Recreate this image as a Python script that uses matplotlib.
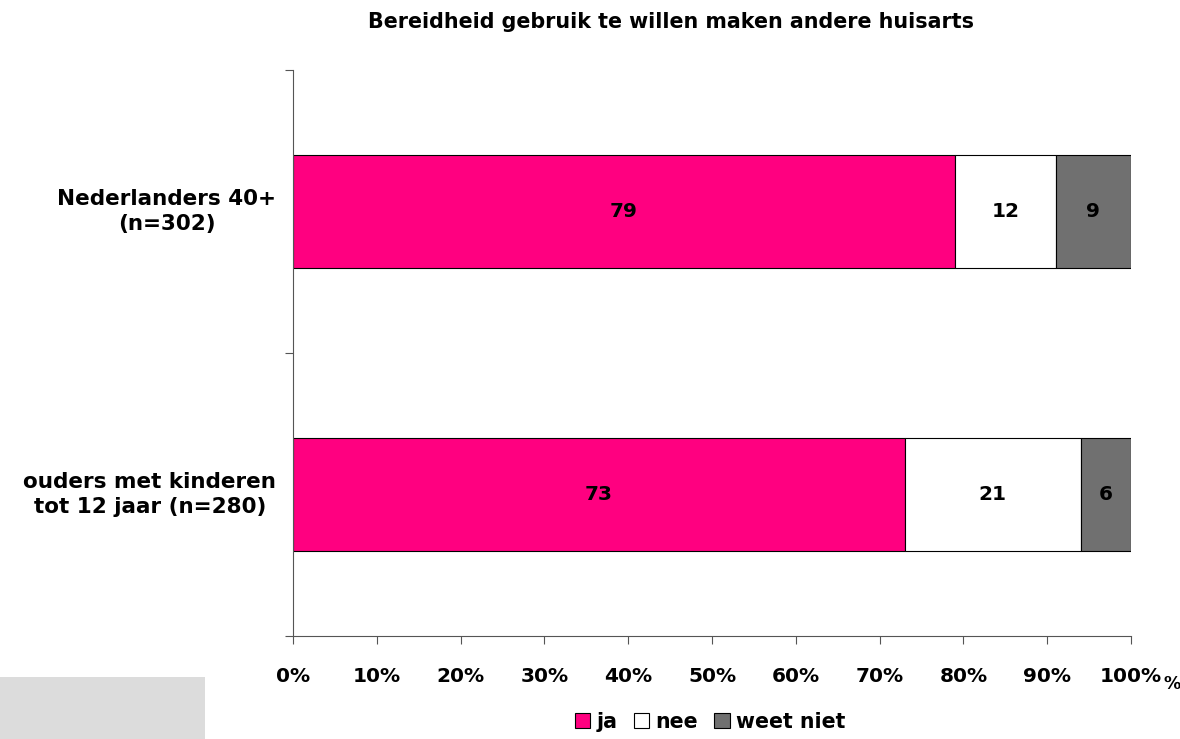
import numpy as np
import matplotlib.pyplot as plt
from matplotlib.patches import Rectangle

plt.rcParams['font.family'] = ['DejaVu Sans']

# data
groepen = ["Nederlanders 40+\n(n=302)", "ouders met kinderen\ntot 12 jaar (n=280)"]
ja = [79, 73]
nee = [12, 21]
weet_niet = [9, 6]
series = ["ja", "nee", "weet niet"]
kleuren = ["#FF0080", "#FFFFFF", "#707070"]
x_ticks = [0, 10, 20, 30, 40, 50, 60, 70, 80, 90, 100]

fig = plt.figure(figsize=(11.8, 7.39), dpi=100)
ax = fig.add_axes([293 / 1180, 1 - 636 / 739, (1131 - 293) / 1180, (636 - 70) / 739])

ypos = np.array([1.5, 0.5])
links = np.zeros(len(groepen))
for naam, vals, kleur in zip(series, [ja, nee, weet_niet], kleuren):
    vals = np.array(vals)
    ax.barh(ypos, vals, left=links, height=0.4, color=kleur, edgecolor="black",
            linewidth=0.8, label=naam)
    for y, l, v in zip(ypos, links, vals):
        ax.text(l + v / 2, y, str(v), ha="center", va="center",
                fontsize=14.5, fontweight="bold")
    links += vals

ax.set_xlim(0, 100)
ax.set_ylim(0, 2)
ax.set_xticks(x_ticks)
ax.set_xticklabels([f"{t}%" for t in x_ticks], fontsize=14.5, fontweight="bold")
ax.set_yticks([0, 1, 2])
ax.set_yticklabels([])
ax.tick_params(axis="x", direction="out", length=6, width=0.8, color="#555555", pad=16)
ax.tick_params(axis="y", direction="out", length=6, width=0.8, color="#555555")
for s in ["top", "right"]:
    ax.spines[s].set_visible(False)
for s in ["left", "bottom"]:
    ax.spines[s].set_color("#555555")
    ax.spines[s].set_linewidth(0.8)

for y, g in zip(ypos, groepen):
    ax.text(-2.0, y, g, ha="right", va="center", multialignment="center",
            fontsize=15.5, fontweight="bold", linespacing=1.3)

fig.text(1163 / 1180, 1 - 684 / 739, "%", fontsize=12.5, fontweight="bold",
         ha="left", va="center")

fig.text(671 / 1180, 1 - 22 / 739, "Bereidheid gebruik te willen maken andere huisarts",
         ha="center", va="center", fontsize=14.9, fontweight="bold")

fig.legend(loc="center", bbox_to_anchor=(710 / 1180, 1 - 722 / 739), ncol=3,
           frameon=False, prop={"size": 14.8, "weight": "bold"},
           handlelength=0.75, handleheight=0.75, handletextpad=0.3, columnspacing=0.8)

fig.patches.append(Rectangle((0, 0), 205 / 1180, 62 / 739, transform=fig.transFigure,
                             facecolor="#DCDCDC", edgecolor="none"))

fig.savefig("out.png", dpi=100)
